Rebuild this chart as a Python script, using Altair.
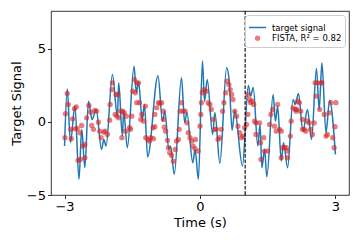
import altair as alt
import pandas as pd

# target signal (read at its turning points)
line_t = [-3.00, -2.94, -2.87, -2.77, -2.68, -2.62, -2.55, -2.47, -2.39, -2.30, -2.18, -2.13, -2.08,
          -1.94, -1.83, -1.80, -1.72, -1.69, -1.61, -1.46, -1.41, -1.36, -1.28, -1.23, -1.16,
          -0.93, -0.83, -0.78, -0.69, -0.65, -0.57, -0.41, -0.34, -0.29, -0.16, -0.11, -0.035,
          0.055, 0.10, 0.16, 0.28, 0.33, 0.44, 0.59, 0.65, 0.71, 0.77, 0.94, 1.07, 1.12, 1.18,
          1.28, 1.33, 1.37, 1.43, 1.48, 1.62, 1.67, 1.72, 1.80, 1.85, 1.94, 2.06, 2.11, 2.18,
          2.28, 2.38, 2.47, 2.58, 2.64, 2.70, 2.79, 2.87, 3.00]
line_v = [-1.66, 2.25, -1.41, 1.06, -3.93, -0.52, -3.14, 1.40, 0.16, 0.84, -1.89, -1.21, -1.66,
          3.22, 0.38, 2.66, -0.98, 0.72, -1.77, 3.79, 2.00, 2.71, 0.16, 1.18, -2.40,
          3.14, 0.04, 0.72, -1.89, -1.68, -3.59, 3.00, -0.05, 0.63, -2.80, -1.89, -3.93,
          4.14, 1.38, 2.88, -0.87, 0.63, -2.84, 3.68, 2.66, -0.58, 0.77, -3.03, 2.47, 1.75, 2.34,
          -1.66, -0.18, -3.14, -1.89, -3.76, 1.86, 0.04, 1.04, -2.69, -1.43, -3.14, 1.52, 1.18, 1.93,
          -0.64, 0.84, -1.21, 3.63, 0.84, 4.02, -0.75, 1.45, -2.23]

# FISTA reconstruction
fista_t = [-2.94, -2.92, -2.98, -2.99, -2.86, -2.85, -2.82, -2.78, -2.74, -2.76, -2.72, -2.62, -2.66,
           -2.59, -2.55, -2.65, -2.70, -2.55, -2.51, -2.46, -2.42, -2.40, -2.36, -2.33, -2.29, -2.25,
           -2.22, -2.19, -2.13, -2.10, -2.05, -2.00, -1.99, -1.95, -1.94, -1.86, -1.82, -1.84, -1.80,
           -1.88, -1.76, -1.73, -1.71, -1.68, -1.65, -1.63, -1.56, -1.54, -1.51, -1.49, -1.45, -1.43,
           -1.40, -1.36, -1.40, -1.34, -1.31, -1.29, -1.25, -1.21, -1.20, -1.15, -1.12, -1.09, -1.04,
           -1.03, -1.00, -1.00, -0.96, -0.92, -0.89, -0.85, -0.81, -0.81, -0.79, -0.76, -0.72, -0.70,
           -0.67, -0.63, -0.59, -0.55, -0.52, -0.48, -0.46, -0.44, -0.41, -0.37, -0.33, -0.29, -0.26,
           -0.22, -0.18, -0.15, -0.11, -0.10, -0.04, 0.00,
           0.02, 0.03, 0.05, 0.09, 0.14, 0.18, 0.22, 0.25, 0.29, 0.33, 0.36, 0.40, 0.44, 0.47, 0.50,
           0.53, 0.57, 0.60, 0.64, 0.67, 0.70, 0.73, 0.77, 0.81, 0.84, 0.88, 0.92, 0.95, 0.99, 1.03,
           1.06, 1.10, 1.12, 1.15, 1.19, 1.06, 1.21, 1.24, 1.32, 1.24, 1.34, 1.41, 1.35, 1.43, 1.50,
           1.54, 1.57, 1.61, 1.65, 1.69, 1.72, 1.76, 1.80, 1.83, 1.87, 1.91, 1.94, 1.80, 1.94, 2.00,
           2.02, 2.06, 2.11, 2.13, 2.16, 2.20, 2.14, 2.23, 2.27, 2.31, 2.34, 2.27, 2.38, 2.42, 2.45,
           2.49, 2.53, 2.57, 2.55, 2.60, 2.65, 2.68, 2.70, 2.75, 2.79, 2.82, 2.86, 2.90, 2.94, 2.99,
           2.97, 3.01]
fista_v = [1.93, 1.18, 0.55, -1.09, -0.52, -1.16, 0.20, 0.89, 1.02, -0.48, -0.46, -0.25, -0.75,
           -1.66, -1.55, -2.57, -2.64, -2.45, 0.27, 1.11, 0.65, -0.25, -0.52, 0.77, 0.72, -0.03,
           -0.64, -1.09, -0.71, -0.64, -0.87, 0.11, 1.18, 2.20, 2.66, 1.86, 1.86, 0.38, 0.27,
           0.50, 0.72, -1.09, 0.72, 0.61, -0.64, 0.38, -0.41, -0.52, 0.38, 2.09, 2.88, 1.98,
           2.66, 2.66, 1.30, 1.30, 0.16, 0.50, 0.04, 1.06, -1.09, -1.21, -1.32, -1.09, -0.41,
           -1.16, -0.34, 0.50, 0.95, 1.30, 1.25, 1.30, 0.72, 0.16, -0.37, -0.64, -1.27, -1.77,
           -2.11, -2.30, -2.69, -1.89, -1.32, -1.21, -0.52, 0.72, 1.30, 0.72, 0.72, -0.07, -0.75,
           -1.09, -1.32, -1.66, -1.84, -1.21, -2.00, -0.30,
           0.50, 1.30, 1.98, 2.20, 2.09, 1.30, 1.18, 0.84, 0.16, -0.52, -0.52, -1.21, -1.09, -0.52, 0.72,
           1.30, 1.98, 2.77, 2.54, 2.20, 1.86, 1.52, 0.72, 0.38, -0.30, -0.75, -1.09, -0.98, -0.41, -0.18,
           1.86, 1.52, 1.30, 1.40, 1.18, 0.50, 0.04, -0.07, -0.07, -0.87, -1.43, -1.09, -2.57, -2.00, -2.00,
           -0.18, 0.50, 0.84, -0.30, -0.64, 1.18, -0.52, -0.64, -1.77, -1.77, -1.77, -2.00, -2.45, -2.45, -0.98,
           0.04, 0.95, 0.84, 0.72, 1.40, 1.30, 0.84, 0.72, 0.16, -0.52, -0.64, -0.52, 0.04, -0.07, -0.52,
           -0.87, -0.07, 1.75, 2.66, 2.66, 0.84, 2.66, 2.66, 0.50, -0.98, -0.87, 0.61, 1.30, -1.09, -0.34,
           -1.77, 1.30]

event_t = [1.0]
x_ticks = [-3, 0, 3]
y_ticks = [-5, 0, 5]
series = ["target signal", "FISTA, R\u00b2 = 0.82"]

line_df = pd.DataFrame({"t": line_t, "v": line_v, "series": series[0]})
pts_df = pd.DataFrame({"t": fista_t, "v": fista_v, "series": series[1]})
rule_df = pd.DataFrame({"t": event_t})

xscale = alt.Scale(domain=[-3.3, 3.3], nice=False, zero=False)
yscale = alt.Scale(domain=[-5, 7.56], nice=False, zero=False)


def legend():
    return alt.Legend(
        title=None, orient="top-right", offset=4,
        fillColor="rgba(255,255,255,0.8)", strokeColor="#cccccc", cornerRadius=3,
        padding=3, labelFontSize=8.5, labelFont="DejaVu Sans", labelColor="#000000",
        rowPadding=0, labelOffset=5, symbolStrokeWidth=1.5, symbolOpacity=1,
    )


stroke_scale = alt.Scale(domain=series, range=["#1f77b4", "transparent"])
fill_scale = alt.Scale(domain=series, range=["transparent", "rgba(214,39,40,0.6)"])
shape_scale = alt.Scale(domain=series, range=["stroke", "circle"])
size_scale = alt.Scale(type="ordinal", domain=series, range=[289, 28])

xenc = alt.X("t:Q", scale=xscale, axis=alt.Axis(values=x_ticks, title="Time (s)"))
yenc = alt.Y("v:Q", scale=yscale, axis=alt.Axis(values=y_ticks, title="Target Signal"))

line = alt.Chart(line_df).mark_line(strokeWidth=1.5, interpolate="monotone").encode(
    x=xenc, y=yenc, stroke=alt.Stroke("series:N", scale=stroke_scale, legend=legend()))
pts = alt.Chart(pts_df).mark_point(filled=True, opacity=1).encode(
    x=alt.X("t:Q", scale=xscale), y=alt.Y("v:Q", scale=yscale),
    fill=alt.Fill("series:N", scale=fill_scale, legend=legend()),
    stroke=alt.Stroke("series:N", scale=stroke_scale, legend=legend()),
    shape=alt.Shape("series:N", scale=shape_scale, legend=legend()),
    size=alt.Size("series:O", scale=size_scale, legend=legend()),
)
rule = alt.Chart(rule_df).mark_rule(color="black", strokeWidth=1.1, strokeDash=[3.7, 1.6]).encode(
    x=alt.X("t:Q", scale=xscale))

chart = alt.layer(line, pts, rule).properties(
    width=298, height=184,
    autosize=alt.AutoSizeParams(type="none"),
    padding={"left": 43, "top": 3, "right": 3, "bottom": 37},
).configure(font="DejaVu Sans").configure_view(
    stroke="black", strokeWidth=0.8
).configure_axis(
    grid=False, domain=False, tickSize=3.5, tickWidth=0.8, tickColor="black",
    labelFontSize=13, titleFontSize=13, titleFontWeight="normal",
    labelColor="black", titleColor="black", labelPadding=2, titlePadding=3,
    labelFont="DejaVu Sans", titleFont="DejaVu Sans",
)

chart.save("out.html", embed_options={"renderer": "svg", "actions": False})
